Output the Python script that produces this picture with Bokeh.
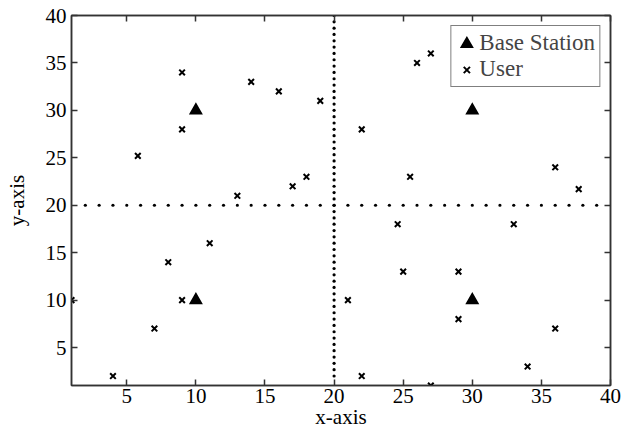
from bokeh.plotting import figure
from bokeh.models import LinearAxis, FixedTicker, Range1d, Legend, LegendItem
from bokeh.embed import file_html
from bokeh.resources import INLINE

# ---- data ----
bs_x = [10, 10, 30, 30]
bs_y = [30, 10, 30, 10]

user_x = [1, 4, 5.8, 7, 8, 9, 9, 9, 11, 13, 14, 16, 17, 18, 19, 21, 22, 22,
          24.6, 25, 25.5, 26, 27, 27, 29, 29, 33, 34, 36, 36, 37.7]
user_y = [10, 2, 25.2, 7, 14, 10, 28, 34, 16, 21, 33, 32, 22, 23, 31, 10, 2, 28,
          18, 13, 23, 35, 36, 1, 13, 8, 18, 3, 24, 7, 21.7]

x_ticks = [5, 10, 15, 20, 25, 30, 35, 40]
y_ticks = [5, 10, 15, 20, 25, 30, 35, 40]

# dotted partition lines (x = 20 and y = 20)
div_x = 20
div_y = 20
hdots_x = list(range(2, 40))                   # one dot per x unit
vdots_y = [2 + k * 2 / 3 for k in range(58)]   # one dot per 2/3 y unit

FONT = "Liberation Serif"
AX = "#333333"

p = figure(width=634, height=432, x_range=Range1d(1, 40), y_range=Range1d(1, 40),
           output_backend="svg", toolbar_location=None,
           min_border_left=71, min_border_right=24, min_border_top=15, min_border_bottom=47)
p.grid.visible = False
p.outline_line_color = AX
p.outline_line_width = 1.5
p.background_fill_color = "white"
p.border_fill_color = "white"


def style_axis(ax, ticks, show_labels=True):
    ax.ticker = FixedTicker(ticks=ticks)
    ax.major_tick_in = 6
    ax.major_tick_out = 0
    ax.minor_tick_line_color = None
    ax.axis_line_color = AX
    ax.axis_line_width = 1.5
    ax.major_tick_line_color = AX
    ax.major_tick_line_width = 1.5
    ax.major_label_text_font = FONT
    ax.axis_label_text_font = FONT
    ax.axis_label_text_font_style = "normal"
    ax.axis_label_text_color = "black"
    ax.axis_label_text_font_size = "21px"
    if show_labels:
        ax.major_label_text_font_size = "21px"
        ax.major_label_text_color = "black"
    else:
        ax.major_label_text_font_size = "0px"
        ax.major_label_text_color = None
        ax.major_label_standoff = 0


xa = p.xaxis[0]
style_axis(xa, x_ticks)
xa.axis_label = "x-axis"
xa.major_label_standoff = 3
xa.axis_label_standoff = -1

ya = p.yaxis[0]
style_axis(ya, y_ticks)
ya.axis_label = "y-axis"
ya.major_label_standoff = 5
ya.axis_label_standoff = 14

top = LinearAxis()
style_axis(top, x_ticks, show_labels=False)
p.add_layout(top, "above")

right = LinearAxis()
style_axis(right, y_ticks, show_labels=False)
p.add_layout(right, "right")

# dotted partition lines
p.scatter(x=hdots_x, y=[div_y] * len(hdots_x), marker="circle", size=3.2,
          color="black", line_width=0)
p.scatter(x=[div_x] * len(vdots_y), y=vdots_y, marker="circle", size=3.2,
          color="black", line_width=0)

bs = p.scatter(x=bs_x, y=bs_y, marker="triangle", size=8.8, fill_color="black",
               line_color="black", line_width=3, line_join="miter")
us = p.scatter(x=user_x, y=user_y, marker="x", size=8, line_color="black",
               line_width=2)

legend = Legend(items=[LegendItem(label="Base Station", renderers=[bs]),
                       LegendItem(label="User", renderers=[us])],
                location="top_right", margin=10, padding=4, spacing=0,
                glyph_width=22, glyph_height=23, label_height=23, label_standoff=2,
                label_text_font=FONT, label_text_font_size="23px",
                border_line_color="black", border_line_width=1.5,
                background_fill_color="white", background_fill_alpha=1)
p.add_layout(legend)

open("out.html", "w").write(file_html(p, INLINE))
